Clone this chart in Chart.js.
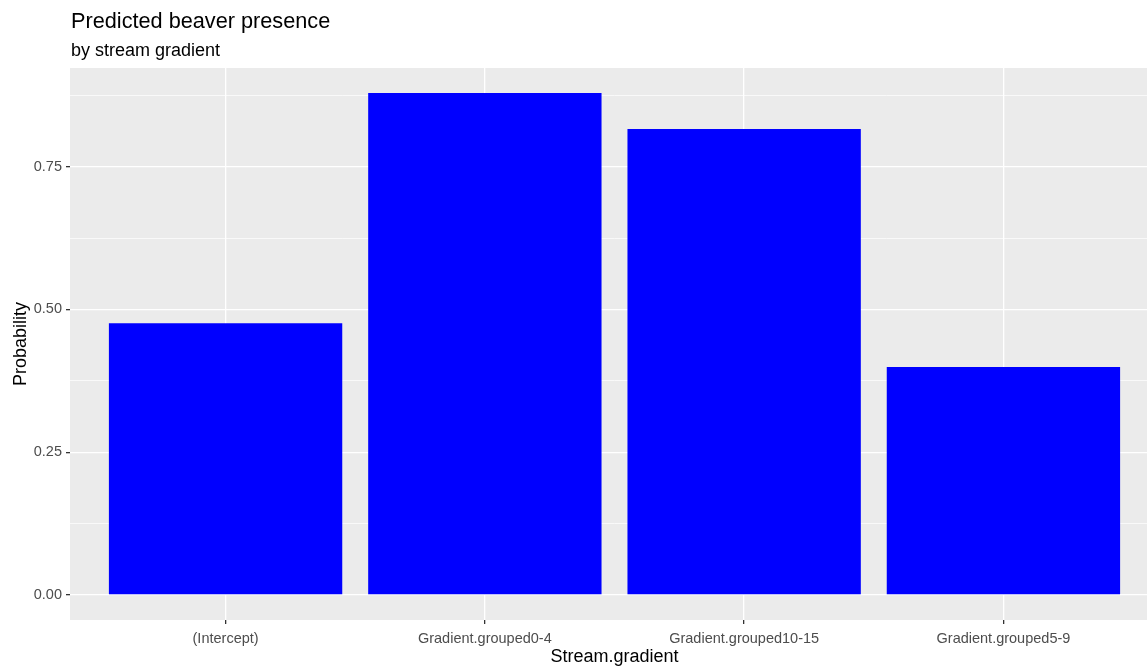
<!DOCTYPE html>
<html>
<head>
<meta charset="utf-8">
<script src="https://cdn.jsdelivr.net/npm/chart.js@4/dist/chart.umd.min.js"></script>
<style>
  html, body { margin: 0; padding: 0; background: #fff; overflow: hidden; }
</style>
</head>
<body>
<canvas id="beaver" width="1159" height="666"></canvas>
<script>
var categories = ["(Intercept)", "Gradient.grouped0-4", "Gradient.grouped10-15", "Gradient.grouped5-9"];
var probability = [0.476, 0.879, 0.816, 0.399];
var yMajor = [0, 0.25, 0.5, 0.75];
var yMinor = [0.125, 0.375, 0.625, 0.875];

var FONT = '"Liberation Sans", Arial, sans-serif';
var peak = Math.max.apply(null, probability);

function isMajor(v) {
  return yMajor.indexOf(v) !== -1;
}

// grey ggplot panel behind the grid
var panelBg = {
  id: 'panelBg',
  beforeDraw: function (chart) {
    var a = chart.chartArea, c = chart.ctx;
    c.save();
    c.fillStyle = '#EBEBEB';
    c.fillRect(a.left, a.top, a.right - a.left, a.bottom - a.top);
    c.restore();
  }
};

// title + subtitle, left aligned with the panel
var headings = {
  id: 'headings',
  afterDraw: function (chart) {
    var c = chart.ctx;
    c.save();
    c.fillStyle = '#000';
    c.textBaseline = 'alphabetic';
    c.font = '21.7px ' + FONT;
    c.fillText('Predicted beaver presence', 71, 28);
    c.font = '18px ' + FONT;
    c.fillText('by stream gradient', 71, 56);
    c.restore();
  }
};

var ctx = document.getElementById('beaver').getContext('2d');
var beaverChart = new Chart(ctx, {
  type: 'bar',
  data: {
    datasets: [{
      data: probability.map(function (p, i) { return { x: i, y: p }; }),
      backgroundColor: '#0000FF',
      borderWidth: 0,
      barPercentage: 0.9,
      categoryPercentage: 1
    }]
  },
  options: {
    responsive: false,
    animation: false,
    layout: { padding: { top: 68, left: 0, right: 0, bottom: 0 } },
    plugins: {
      legend: { display: false },
      tooltip: { enabled: false }
    },
    scales: {
      x: {
        type: 'linear',
        min: -0.6,
        max: categories.length - 1 + 0.6,
        offset: false,
        afterBuildTicks: function (scale) {
          scale.ticks = categories.map(function (c, i) { return { value: i }; });
        },
        afterFit: function (scale) { scale.height = 46; },
        ticks: {
          autoSkip: false,
          maxRotation: 0,
          padding: 6,
          color: '#4D4D4D',
          font: { family: FONT, size: 14.5 },
          callback: function (v) { return categories[v]; }
        },
        grid: {
          offset: false,
          color: '#FFFFFF',
          lineWidth: 1.3,
          tickColor: '#333333',
          tickLength: 4,
          tickWidth: 1.3
        },
        border: { display: false },
        title: {
          display: true,
          text: 'Stream.gradient',
          color: '#000',
          font: { family: FONT, size: 18 },
          padding: { top: 0, bottom: -1.5 }
        }
      },
      y: {
        type: 'linear',
        min: -0.05 * peak,
        max: 1.05 * peak,
        afterBuildTicks: function (scale) {
          scale.ticks = yMajor.concat(yMinor).sort().map(function (v) { return { value: v }; });
        },
        afterFit: function (scale) { scale.width = 70; },
        ticks: {
          autoSkip: false,
          padding: 4,
          color: '#4D4D4D',
          font: { family: FONT, size: 14.5 },
          callback: function (v) { return isMajor(v) ? v.toFixed(2) : ''; }
        },
        grid: {
          color: '#FFFFFF',
          lineWidth: function (c) { return isMajor(c.tick.value) ? 1.3 : 0.7; },
          tickColor: function (c) { return isMajor(c.tick.value) ? '#333333' : 'rgba(0,0,0,0)'; },
          tickLength: 4,
          tickWidth: 1.3
        },
        border: { display: false },
        title: {
          display: true,
          text: 'Probability',
          color: '#000',
          font: { family: FONT, size: 18 },
          padding: { top: 10.5, bottom: 0 }
        }
      }
    }
  },
  plugins: [panelBg, headings]
});
</script>
</body>
</html>
